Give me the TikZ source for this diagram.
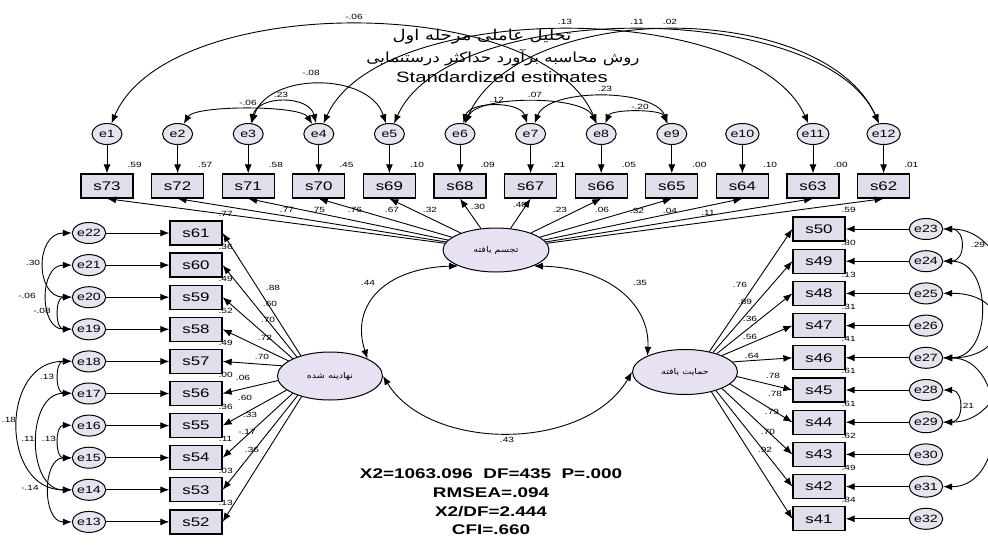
\documentclass[tikz,border=0pt]{standalone}
\usepackage{fontspec}
\setmainfont{Liberation Sans}[FakeStretch=1.35]
\newfontfamily\arabicfont[Script=Arabic,FakeStretch=1.2]{DejaVu Sans}
\TeXXeTstate=1
\usetikzlibrary{shapes.geometric,arrows.meta}
\definecolor{boxfill}{HTML}{E0DEEA}
\definecolor{errfill}{HTML}{E6E4EE}
\definecolor{latfill}{HTML}{E8E1F3}
\tikzset{
  errnode/.style={ellipse, draw, line width=1pt, fill=errfill, minimum width=30pt, minimum height=21pt, inner sep=0pt, font=\fontsize{10.5}{10.5}\selectfont},
  obsnode/.style={rectangle, draw, line width=1.3pt, fill=boxfill, minimum width=52pt, minimum height=24pt, inner sep=0pt, font=\fontsize{12.5}{12.5}\selectfont},
  latnode/.style={ellipse, draw, line width=1pt, fill=latfill, inner sep=0pt, font=\fontsize{8}{8}\selectfont\arabicfont},
  arr/.style={-{Latex[length=9pt,width=7pt]}, line width=0.9pt},
  cov/.style={{Latex[length=9pt,width=7pt]}-{Latex[length=9pt,width=7pt]}, line width=0.9pt},
  num/.style={inner sep=0pt, font=\fontsize{7.5}{7.5}\selectfont},
  statnode/.style={inner sep=0pt, font=\fontsize{14}{14}\selectfont\bfseries},
}
\begin{document}
\begin{tikzpicture}[x=1pt,y=-1pt]
\useasboundingbox (0,0) rectangle (988,547);
\fill[white] (0,0) rectangle (988,547);
\clip (0,0) rectangle (988,547);

% title
\node[inner sep=0pt, font=\fontsize{15}{15}\selectfont\arabicfont] (t1) at (482,37) {\beginR تحلیل عاملی مرحله اول\endR};
\node[inner sep=0pt, font=\fontsize{14}{14}\selectfont\arabicfont] (t2) at (503,58) {\beginR روش محاسبه برآورد حداکثر درستنمایی\endR};
\node[inner sep=0pt, font=\fontsize{15}{15}\selectfont] (t3) at (502,77) {Standardized estimates};

% latent variables
\node[latnode, minimum width=106pt, minimum height=44pt] (F1) at (496,250) {\beginR تجسم یافته\endR};
\node[latnode, minimum width=105pt, minimum height=48pt] (F2) at (330,376) {\beginR نهادینه شده\endR};
\node[latnode, minimum width=105pt, minimum height=45pt] (F3) at (685,372) {\beginR حمایت یافته\endR};

% top row
\foreach \i/\e/\s/\v in {0/1/73/.59, 1/2/72/.57, 2/3/71/.58, 3/4/70/.45, 4/5/69/.10, 5/6/68/.09, 6/7/67/.21, 7/8/66/.05, 8/9/65/.00, 9/10/64/.10, 10/11/63/.00, 11/12/62/.01}{
  \node[errnode] (e\e) at (107+70.6*\i,134) {e\e};
  \node[obsnode] (s\s) at (107+70.6*\i,186) {s\s};
  \draw[arr] (e\e) -- (s\s);
  \node[num] (v\s) at ([xshift=1pt,yshift=8pt]s\s.north east) {\v};
  \draw[arr] (F1) -- (s\s.south);
}

% left column
\foreach \k/\e/\s/\v/\a in {0/22/61/.77/145, 1/21/60/.36/150, 2/20/59/.49/155, 3/19/58/.52/160, 4/18/57/.49/168, 5/17/56/.00/185, 6/16/55/.36/198, 7/15/54/.11/205, 8/14/53/.03/211, 9/13/52/.13/216}{
  \node[errnode] (e\e) at (89,233+32.1*\k) {e\e};
  \node[obsnode] (s\s) at (196,233+32.1*\k) {s\s};
  \draw[arr] (e\e) -- (s\s);
  \node[num] (v\s) at ([xshift=3pt,yshift=6pt]s\s.north east) {\v};
  \draw[arr] (F2.\a) -- (s\s.east);
}

% right column
\foreach \k/\e/\s/\v/\a in {0/23/50/.59/40, 1/24/49/.80/35, 2/25/48/.13/30, 3/26/47/.31/24, 4/27/46/.41/12, 5/28/45/.61/-5, 6/29/44/.61/-15, 7/30/43/.62/-24, 8/31/42/.49/-31, 9/32/41/.84/-37}{
  \node[errnode] (e\e) at (926,229+32.2*\k) {e\e};
  \node[obsnode] (s\s) at (819,229+32.2*\k) {s\s};
  \draw[arr] (e\e) -- (s\s);
  \node[num] (v\s) at ([xshift=3pt,yshift=6pt]s\s.north east) {\v};
  \draw[arr] (F3.\a) -- (s\s.west);
}

% loading labels F1
\foreach \x/\y/\t in {287/210/.77, 318/210/.75, 355/210/.76, 392/210/.67, 430/210/.32, 478/207/.30, 520/205/.40, 560/210/.23, 602/210/.06, 637/211/.32, 670/211/.04, 708/213/.11}
  \node[num] at (\x,\y) {\t};
% loading labels F2
\foreach \x/\y/\t in {273/288/.88, 270/304/.60, 268/320/.70, 265/338/.72, 262/357/.70, 243/378/.06, 245/398/.60, 250/415/.33, 247/432/-.17, 252/450/.36}
  \node[num] at (\x,\y) {\t};
% loading labels F3
\foreach \x/\y/\t in {740/285/.76, 745/302/.89, 750/319/.36, 750/337/.56, 752/356/.64, 773/376/.78, 775/394/.78, 772/412/.79, 768/432/.70, 765/450/.92}
  \node[num] at (\x,\y) {\t};

% factor covariances
\draw[cov] (F1.south west) .. controls (385,268) and (350,305) .. (F2.north east);
\draw[cov] (F1.south east) .. controls (610,268) and (650,305) .. (F3.north west);
\draw[cov] (F2.east) .. controls (430,452) and (585,452) .. (F3.west);
\node[num] (c12) at (368,283) {.44};
\node[num] (c13) at (640,283) {.35};
\node[num] (c23) at (507,440) {.43};

% top error covariances
\draw[cov] (e1) .. controls (167,-8) and (541,-8) .. (e8);
\draw[cov] (e4) .. controls (379,-1) and (753,-1) .. (e11);
\draw[cov] (e5) .. controls (449,-1) and (824,-1) .. (e12);
\draw[cov] (e6) .. controls (520,-1) and (824,-1) .. (e12);
\draw[cov] (e3) .. controls (268,72) and (369,72) .. (e5);
\draw[cov] (e3) .. controls (258,95) and (309,95) .. (e4);
\draw[cov] (e2) .. controls (195,105) and (300,105) .. (e4);
\draw[cov] (e6) .. controls (470,101) and (520,101) .. (e7);
\draw[cov] (e6) .. controls (478,95) and (583,95) .. (e8);
\draw[cov] (e7) .. controls (548,88) and (654,88) .. (e9);
\draw[cov] (e8) .. controls (611,109) and (661,109) .. (e9);
\foreach \x/\y/\t in {354/17/-.06, 565/22/.13, 637/22/.11, 670/22/.02, 311/73/-.08, 281/95/.23, 248/103/-.06, 497/100/.12, 535/95/.07, 605/89/.23, 640/107/-.20}
  \node[num] at (\x,\y) {\t};

% left error covariances
\draw[cov] (e22) .. controls (35,233) and (35,297) .. (e20);
\draw[cov] (e21) .. controls (39,265) and (39,329) .. (e19);
\draw[cov] (e20) .. controls (55,297) and (55,329) .. (e19);
\draw[cov] (e18) .. controls (55,361) and (55,393) .. (e17);
\draw[cov] (e18) .. controls (0,361) and (0,490) .. (e14);
\draw[cov] (e17) .. controls (26,393) and (26,490) .. (e14);
\draw[cov] (e16) .. controls (55,425) and (55,458) .. (e15);
\draw[cov] (e15) .. controls (42,458) and (42,522) .. (e13);
\foreach \x/\y/\t in {33/263/.30, 27/296/-.06, 42/311/-.08, 47/377/.13, 9/420/.18, 28/439/.11, 49/439/.13, 30/488/-.14}
  \node[num] at (\x,\y) {\t};

% right error covariances
\draw[cov] (e23) .. controls (966,229) and (966,261) .. (e24);
\draw[cov] (e24) .. controls (993,261) and (993,358) .. (e27);
\draw[cov] (e23) .. controls (1033,229) and (1033,422) .. (e29);
\draw[cov] (e25) .. controls (1013,293) and (1013,358) .. (e27);
\draw[cov] (e27) .. controls (1009,358) and (1009,487) .. (e31);
\draw[cov] (e28) .. controls (964,390) and (964,422) .. (e29);
\foreach \x/\y/\t in {978/245/.29, 967/406/.21}
  \node[num] at (\x,\y) {\t};

% fit statistics
\node[statnode] (st1) at (491,474) {X2=1063.096\ \ DF=435\ \ P=.000};
\node[statnode] (st2) at (491,493) {RMSEA=.094};
\node[statnode] (st3) at (491,512) {X2/DF=2.444};
\node[statnode] (st4) at (491,530) {CFI=.660};
\end{tikzpicture}
\end{document}
